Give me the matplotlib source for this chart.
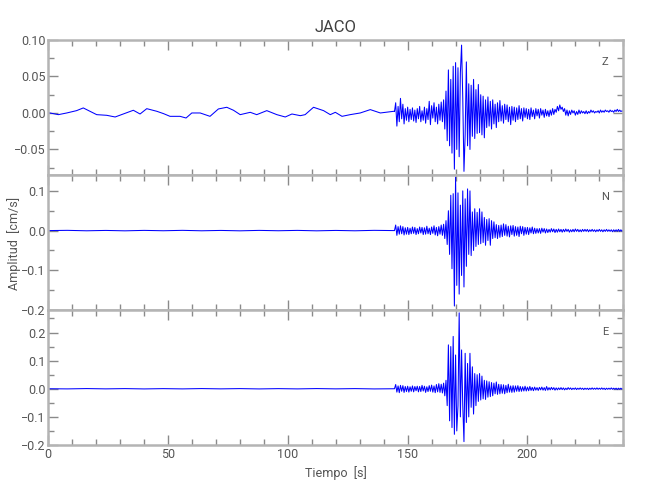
import matplotlib
matplotlib.use("Agg")
import matplotlib.pyplot as plt
import numpy as np
from matplotlib.ticker import MultipleLocator, FuncFormatter

plt.rcParams['font.family'] = ['Roboto', 'DejaVu Sans']

# amplitudes in 0.001 cm/s
# Z before the event (slow drift)
t_z_pre = [0.0, 0.7, 4.2, 7.7, 11.8, 14.6, 17.4, 20.2, 24.4, 27.9, 31.3, 35.5, 38.3, 41.1, 45.3,
           48.1, 50.8, 55.0, 57.5, 59.9, 63.4, 67.5, 71.0, 74.5, 77.3, 80.1, 84.3, 87.0, 91.2,
           95.4, 98.9, 101.7, 105.2, 107.2, 110.7, 114.9, 117.7, 119.8, 122.6, 126.0, 130.2,
           134.4, 138.6, 144.2]
z_pre = [0, 0, -2.3, 0, 3.2, 6.9, 2.3, -2.3, -3.2, -5.5, -1.4, 3.7, -1.4, 5.9, 2.3,
         -0.9, -4.6, -4.6, -6.9, 0, 0, -4.6, 5.5, 7.8, 3.7, -2.3, 0.9, -2.3, 3.2,
         -2.3, -5.5, -1.4, -3.7, -2.3, 7.8, 3.2, -2.3, 0.9, -4.6, -2.3, 0, 4.6, 0, 2.3]

# N and E before the event (nearly flat)
t_ne_pre = [0, 8, 16, 24, 32, 40, 48, 56, 64, 72, 80, 88, 96, 104, 112, 120, 128, 136, 144]
n_pre = [0, 0.6, -0.5, 0.4, -0.6, 0.5, -0.4, 0.6, -0.5, 0.4, -0.6, 0.5, -0.4, 0.5, -0.6, 0.4, -0.5, 0.6, 0]
e_pre = [0, -0.5, 0.6, -0.4, 0.5, -0.6, 0.4, -0.5, 0.6, -0.4, 0.5, -0.6, 0.4, -0.5, 0.6, -0.4, 0.5, -0.6, 0]

# event part, sampled every 0.5 s from 144.5 s to 240 s
t_ev_start = 144.5
t_ev_step = 0.5

z_ev = [2, 14, -18, 9, -12, 20, -8, 12, -15, 6,
        -10, 8, -12, 5, -9, 7, -11, 4, -13, 6,
        -8, 9, -12, 3, -10, 8, -14, 6, -9, 16,
        -16, 10, -7, 14, -12, 8, -15, 12, -10, 15,
        -12, 18, -22, 30, -38, 59, -45, 46, -55, 64,
        -77, 69, -50, 62, -60, 55, 93, 20, -80, -30,
        70, -45, 40, -50, 38, -32, 46, -35, 32, -28,
        39, -27, 25, -30, 23, -34, 18, -20, 22, -18,
        16, -22, 18, -15, 12, -20, 14, -12, 17, -11,
        10, -14, 12, -9, 11, -12, 8, -16, 9, -10,
        8, -12, 7, -9, 10, -8, 6, -11, 7, -6,
        6, -8, 5, -9, 7, -5, 4, -8, 6, -4,
        5, -7, 6, -3, 4, -6, 5, -4, 3, -5,
        4, -3, 6, -2, 5, 1, 9, 3, 11, 5,
        8, 2, 6, -3, 4, -4, 3, -2, 4, 0,
        3, -3, 2, -2, 4, -1, 3, 0, 2, -1,
        3, -1, 2, 0, 4, 1, 3, 0, 2, 1,
        3, 0, 4, 1, 3, 1, 4, 2, 3, 1,
        4, 2, 3, 1, 4, 2, 5, 2, 4, 2,
        3, 2]

n_ev = [0, 14, -12, 10, -9, 12, -8, 10, -11, 7,
        -9, 8, -10, 6, -8, 9, -7, 8, -10, 5,
        -8, 9, -6, 8, -10, 7, -9, 11, -8, 6,
        -10, 9, -7, 12, -11, 8, -13, 10, -9, 14,
        -12, 16, -20, 25, -35, 50, -60, 89, -96, 93,
        -190, 135, -138, 95, -160, 64, -113, 100, -142, 80,
        -90, 105, -60, 100, -63, 47, -50, 55, -40, 46,
        -35, 55, -33, 47, -30, 33, -37, 28, -25, 30,
        -37, 25, -20, 22, -18, 15, -20, 13, -17, 14,
        -15, 17, -12, 15, -14, 11, -16, 12, -10, 13,
        -14, 10, -12, 9, -15, 11, -8, 10, -12, 8,
        -9, 8, -10, 7, -6, 9, -8, 6, -7, 5,
        -6, 5, -7, 6, -4, 5, -6, 4, -5, 3,
        -4, 5, -3, 4, -5, 3, -4, 4, -3, 3,
        -4, 3, -3, 4, -2, 3, -4, 2, -3, 3,
        -3, 4, -2, 3, -3, 2, -3, 3, -2, 3,
        -2, 3, -3, 2, -2, 3, -2, 2, -3, 2,
        -2, 3, -2, 2, -3, 2, -2, 3, -2, 2,
        -2, 2, -3, 2, -2, 2, -2, 3, -2, 2,
        -2, 1]

e_ev = [0, 15, -12, 10, -14, 12, -9, 11, -13, 8,
        -10, 9, -12, 7, -9, 10, -11, 8, -7, 9,
        -11, 8, -10, 12, -8, 9, -13, 7, -10, 11,
        -9, 13, -12, 10, -14, 15, -11, 18, -13, 16,
        -15, 20, -25, 30, -60, 156, -114, 150, -138, 186,
        -162, 120, -150, -60, 270, -100, 138, -60, -188, 126,
        -120, 90, -100, 126, -66, 78, -90, 54, -60, 50,
        -45, 54, -40, 45, -36, 30, -38, 28, -30, 25,
        -28, 22, -25, 20, -18, 24, -20, 16, -18, 15,
        -16, 14, -18, 12, -14, 16, -12, 10, -13, 11,
        -12, 10, -9, 11, -10, 8, -9, 7, -8, 9,
        -8, 6, -7, 8, -6, 5, -7, 6, -5, 4,
        -6, 5, -4, 6, -5, 4, -6, 8, -5, 4,
        -4, 5, -3, 4, -5, 3, -4, 3, -3, 4,
        -3, 3, -4, 2, -3, 4, -2, 3, -3, 2,
        -2, 3, -3, 2, -2, 3, -2, 2, -3, 2,
        -2, 2, -3, 2, -2, 3, -2, 2, -2, 3,
        -2, 2, -2, 3, -2, 2, -3, 2, -2, 2,
        -2, 3, -2, 2, -2, 2, -3, 2, -2, 2,
        -2, 1]

components = ['Z', 'N', 'E']
ylims = [(-0.085, 0.10), (-0.2, 0.14), (-0.2, 0.28)]
ymajor = [0.05, 0.1, 0.1]
yminor = [0.025, 0.05, 0.05]
ydec = [2, 1, 1]

t_ev = t_ev_start + t_ev_step * np.arange(len(z_ev))
traces = [
    (np.r_[t_z_pre, t_ev], np.r_[z_pre, z_ev] * 1e-3),
    (np.r_[t_ne_pre, t_ev], np.r_[n_pre, n_ev] * 1e-3),
    (np.r_[t_ne_pre, t_ev], np.r_[e_pre, e_ev] * 1e-3),
]

axcol = '#b4b4b4'
txtcol = '#555555'

fig = plt.figure(figsize=(6.5, 5), dpi=100)
bottoms = [0.65, 0.38, 0.11]
axes = []
for k in range(3):
    ax = fig.add_axes([0.0743, bottoms[k], 0.8846, 0.27])
    t, v = traces[k]
    ax.plot(t, v, color='#0000ff', lw=0.75)
    ax.set_xlim(0, 240)
    ax.set_ylim(*ylims[k])
    ax.xaxis.set_major_locator(MultipleLocator(50))
    ax.xaxis.set_minor_locator(MultipleLocator(10))
    ax.yaxis.set_major_locator(MultipleLocator(ymajor[k]))
    ax.yaxis.set_minor_locator(MultipleLocator(yminor[k]))
    d = ydec[k]
    ax.yaxis.set_major_formatter(FuncFormatter(lambda y, p, d=d: ('%.*f' % (d, y)).replace('-', '\u2212')))
    ax.tick_params(which='both', direction='in', top=True, right=True, color='#8a8a8a',
                   labelcolor=txtcol, labelsize=9, width=1, pad=2)
    ax.tick_params(which='major', length=7)
    ax.tick_params(which='minor', length=4)
    for s in ax.spines.values():
        s.set_color(axcol)
        s.set_linewidth(1.8)
    if k < 2:
        ax.tick_params(labelbottom=False)
    ax.text(0.968, 0.84, components[k], transform=ax.transAxes, ha='center', va='center',
            fontsize=8, color=txtcol)
    axes.append(ax)

axes[0].set_title('JACO', fontsize=12, color='#404040', pad=6)
axes[2].set_xlabel('Tiempo  [s]', fontsize=9, color=txtcol, labelpad=4)
fig.text(0.022, 0.514, 'Amplitud  [cm/s]', rotation=90, ha='center', va='center',
         fontsize=9, color=txtcol)

fig.savefig('out.png', dpi=100)
